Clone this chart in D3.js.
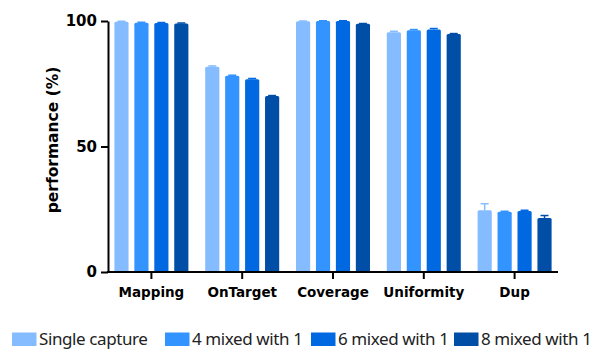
<!DOCTYPE html>
<html><head><meta charset="utf-8">
<script src="https://cdn.jsdelivr.net/npm/d3@7"></script>
<style>body{margin:0;background:#fff}svg{display:block}</style>
</head><body>
<script>
const categories = ["Mapping","OnTarget","Coverage","Uniformity","Dup"];
const seriesNames = ["Single capture","4 mixed with 1","6 mixed with 1","8 mixed with 1"];
const colors = ["#85bcff","#3393ff","#0068e0","#004ea6"];
const values = [
  [99.7, 81.8, 99.9, 95.5, 24.6],
  [99.3, 78.2, 100.0, 96.3, 24.0],
  [99.2, 76.8, 100.0, 96.6, 24.3],
  [99.0, 70.1, 98.9, 94.8, 21.5]
];
const errors = [
  [0.2, 0.3, 0.1, 0.4, 2.6],
  [0.2, 0.2, 0.1, 0.3, 0.2],
  [0.2, 0.3, 0.1, 0.4, 0.3],
  [0.2, 0.2, 0.1, 0.2, 1.0]
];
const yTicks = [0, 50, 100];

const W = 600, H = 364;
const svg = d3.select("body").append("svg").attr("width", W).attr("height", H);
const y = d3.scaleLinear().domain([0,100]).range([272, 21]);
const x = d3.scaleBand().domain(categories).range([106, 560]).padding(0);
const xi = d3.scaleBand().domain(seriesNames).range([-37, 37]).paddingInner(0.29).paddingOuter(0);

// bars
seriesNames.forEach((s, si) => {
  const g = svg.append("g");
  categories.forEach((c, ci) => {
    const cx = x(c) + x.bandwidth()/2;
    const bx = cx + xi(s);
    const v = values[si][ci], e = errors[si][ci];
    g.append("rect").attr("x", bx).attr("y", y(v)).attr("width", xi.bandwidth())
      .attr("height", y(0) - y(v)).attr("rx", 1.5).attr("fill", colors[si]);
    const mx = bx + xi.bandwidth()/2;
    g.append("line").attr("x1", mx).attr("x2", mx).attr("y1", y(v)).attr("y2", y(v+e))
      .attr("stroke", colors[si]).attr("stroke-width", 1.5);
    g.append("line").attr("x1", mx-4).attr("x2", mx+4).attr("y1", y(v+e)).attr("y2", y(v+e))
      .attr("stroke", colors[si]).attr("stroke-width", 1.5);
  });
});

// y axis
const yAxis = svg.append("g").attr("transform", "translate(108,0)")
  .call(d3.axisLeft(y).tickValues(yTicks).tickSize(7).tickPadding(4).tickSizeOuter(0));
yAxis.select(".domain").attr("stroke", "#000").attr("stroke-width", 2);
yAxis.selectAll(".tick line").attr("stroke", "#000").attr("stroke-width", 2);
yAxis.selectAll(".tick text").attr("font-family", "DejaVu Sans").attr("font-weight", "bold")
  .attr("font-size", 15).attr("fill", "#000");

// x axis
const xAxis = svg.append("g").attr("transform", "translate(0,272)")
  .call(d3.axisBottom(x).tickSize(7).tickPadding(8).tickSizeOuter(0));
xAxis.select(".domain").remove();
xAxis.append("line").attr("x1", 107).attr("x2", 558).attr("y1", 0).attr("y2", 0)
  .attr("stroke", "#000").attr("stroke-width", 2);
xAxis.selectAll(".tick line").attr("stroke", "#000").attr("stroke-width", 2);
xAxis.selectAll(".tick text").attr("font-family", "DejaVu Sans").attr("font-weight", "bold")
  .attr("font-size", 13.5).attr("fill", "#000");

// y label
svg.append("text").attr("transform", "translate(58,140) rotate(-90)")
  .attr("text-anchor", "middle").attr("font-family", "DejaVu Sans").attr("font-weight", "bold")
  .attr("font-size", 15.5).attr("fill", "#000").text("performance (%)");

// legend
const legX = [12, 165, 311, 454];
const leg = svg.append("g");
seriesNames.forEach((s, i) => {
  leg.append("rect").attr("x", legX[i]).attr("y", 332.5).attr("width", 24.5).attr("height", 13.5).attr("fill", colors[i]);
  leg.append("text").attr("x", legX[i] + 27).attr("y", 345).attr("font-family", "Noto Sans")
    .attr("font-size", 17).attr("letter-spacing", -0.4).attr("fill", "#222").text(s);
});
</script>
</body></html>
